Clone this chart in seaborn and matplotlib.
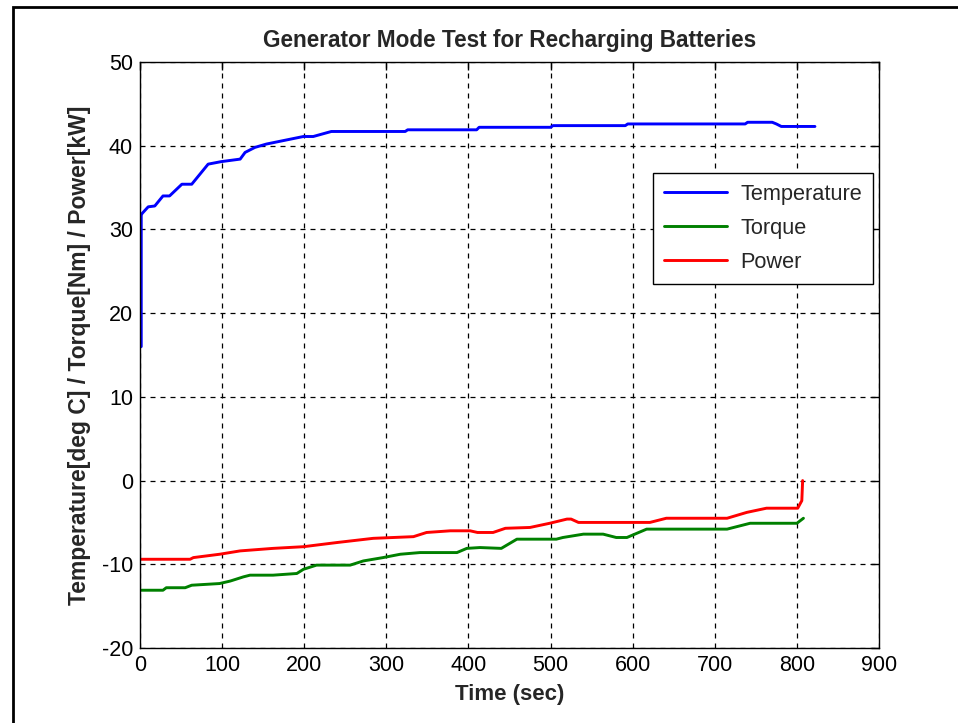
import numpy as np
import pandas as pd
import matplotlib
matplotlib.use("Agg")
import matplotlib.pyplot as plt
import seaborn as sns
from matplotlib.patches import Rectangle

# ---- data ----
temp_time = [1.5, 1.5, 2.5, 10, 18, 28, 36, 51, 63, 73, 83, 99, 122, 128, 140, 154, 174, 199, 211, 233,
             323, 326, 410, 413, 500, 503, 591, 594, 737, 740, 770, 775, 781, 822]
temp_vals = [16, 31.7, 31.9, 32.7, 32.8, 34.0, 34.0, 35.4, 35.4, 36.6, 37.8, 38.1, 38.4, 39.2, 39.8, 40.2,
             40.6, 41.1, 41.1, 41.7, 41.7, 41.9, 41.9, 42.2, 42.2, 42.4, 42.4, 42.6, 42.6, 42.8, 42.8,
             42.6, 42.3, 42.3]

torque_time = [0, 28, 32, 55, 63, 97, 110, 126, 134, 162, 191, 199, 215, 256, 272, 296, 317, 341, 386,
               398, 414, 440, 459, 507, 515, 540, 564, 580, 593, 617, 715, 743, 800, 808]
torque_vals = [-13.1, -13.1, -12.8, -12.8, -12.5, -12.3, -12.0, -11.5, -11.3, -11.3, -11.1, -10.6, -10.1,
               -10.1, -9.6, -9.2, -8.8, -8.6, -8.6, -8.1, -8.0, -8.1, -7.0, -7.0, -6.8, -6.4, -6.4, -6.8,
               -6.8, -5.8, -5.8, -5.1, -5.1, -4.5]

power_time = [0, 61, 65, 97, 122, 162, 199, 240, 284, 333, 349, 378, 402, 411, 430, 445, 475, 499, 520,
              525, 534, 621, 641, 715, 739, 763, 801, 806, 807]
power_vals = [-9.4, -9.4, -9.2, -8.8, -8.4, -8.1, -7.9, -7.4, -6.9, -6.7, -6.2, -6.0, -6.0, -6.2, -6.2,
              -5.7, -5.6, -5.1, -4.6, -4.6, -5.0, -5.0, -4.5, -4.5, -3.8, -3.3, -3.3, -2.4, 0.0]

series_names = ["Temperature", "Torque", "Power"]
series_colors = ["#0000FF", "#008000", "#FF0000"]
x_ticks = [0, 100, 200, 300, 400, 500, 600, 700, 800, 900]
y_ticks = [-20, -10, 0, 10, 20, 30, 40, 50]

frames = []
for name, t, v in zip(series_names, [temp_time, torque_time, power_time],
                      [temp_vals, torque_vals, power_vals]):
    df = pd.DataFrame({"time": t, "value": v, "series": name})
    frames.append(df)
data = pd.concat(frames, ignore_index=True)

sns.set_style("white")
plt.rcParams["font.family"] = ["Liberation Sans", "DejaVu Sans"]

fig = plt.figure(figsize=(9.58, 7.23), dpi=100)
ax = fig.add_axes([140/958, 1-648/723, (879-140)/958, (648-62)/723])

for name, col in zip(series_names, series_colors):
    sub = data[data["series"] == name]
    sns.lineplot(data=sub, x="time", y="value", ax=ax, color=col, linewidth=2.1,
                 estimator=None, sort=False, label=name)

ax.set_xlim(0, 900)
ax.set_ylim(-20, 50)
ax.set_xticks(x_ticks)
ax.set_yticks(y_ticks)
ax.set_xticklabels([str(v) for v in x_ticks])
ax.set_yticklabels([str(v) for v in y_ticks])
ax.tick_params(direction="in", length=6, width=1, top=True, right=True, labelsize=15.5,
               colors="black", pad=5)
ax.grid(True, color="black", linestyle=(0, (4, 4)), linewidth=0.9)
for s in ax.spines.values():
    s.set_color("black")
    s.set_linewidth(1)
    s.set_visible(True)

ax.set_title("Generator Mode Test for Recharging Batteries", fontsize=16.3, fontweight="bold", pad=11)
ax.set_xlabel("Time (sec)", fontsize=16, fontweight="bold", labelpad=6)
ax.set_ylabel("Temperature[deg C] / Torque[Nm] / Power[kW]", fontsize=16.5, fontweight="bold", labelpad=8)

leg = ax.legend(loc="upper right", bbox_to_anchor=(0.992, 0.811), fontsize=15.7, frameon=True,
                fancybox=False, edgecolor="black", handlelength=2.9, borderpad=0.5,
                labelspacing=0.6, handletextpad=0.6, borderaxespad=0)
leg.get_frame().set_linewidth(1)
leg.get_frame().set_alpha(1)

fig.add_artist(Rectangle((13/958, -0.1), 1.2, 1.1 - 7/723, transform=fig.transFigure,
                         fill=False, edgecolor="black", linewidth=2))

fig.savefig("out.png", dpi=100, facecolor="white")
